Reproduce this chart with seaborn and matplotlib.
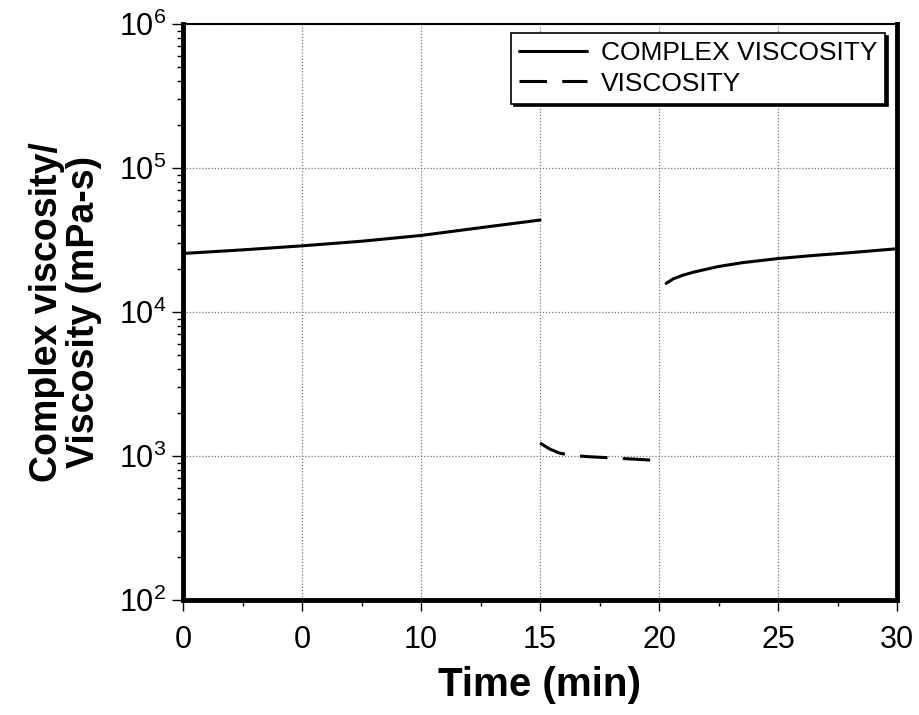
import numpy as np
import pandas as pd
import seaborn as sns
import matplotlib.pyplot as plt
from matplotlib.ticker import LogLocator, NullFormatter, FixedLocator, FixedFormatter

# Complex viscosity, first segment (0-15 min)
cv1_time = [0, 2.5, 5, 7.5, 10, 12.5, 15]
cv1_vals = [2.55e4, 2.7e4, 2.88e4, 3.1e4, 3.4e4, 3.85e4, 4.35e4]
# Complex viscosity, second segment (after 20 min)
cv2_time = [20.3, 20.6, 21, 21.5, 22.5, 23.5, 25, 26.5, 28, 30]
cv2_vals = [1.58e4, 1.7e4, 1.8e4, 1.9e4, 2.07e4, 2.2e4, 2.35e4, 2.47e4, 2.58e4, 2.75e4]
# Viscosity (15-20 min)
v_time = [15, 15.4, 15.8, 16.3, 17, 18, 19, 20]
v_vals = [1.23e3, 1.12e3, 1.05e3, 1.01e3, 0.99e3, 0.97e3, 0.95e3, 0.93e3]

x_ticks = [0, 5, 10, 15, 20, 25, 30]
x_tick_labels = ['0', '0', '10', '15', '20', '25', '30']

sns.set_style("white")
plt.rcParams['font.family'] = ['Liberation Sans', 'DejaVu Sans']
plt.rcParams['mathtext.default'] = 'regular'
plt.rcParams['text.color'] = 'black'
plt.rcParams['axes.labelcolor'] = 'black'
plt.rcParams['xtick.color'] = 'black'
plt.rcParams['ytick.color'] = 'black'

fig = plt.figure(figsize=(9.19, 7.15), dpi=100)
ax = fig.add_axes([183 / 919, 115 / 715, 714 / 919, 576 / 715])

sns.lineplot(x=cv1_time, y=cv1_vals, ax=ax, color='black', lw=2.2, label='COMPLEX VISCOSITY')
sns.lineplot(x=cv2_time, y=cv2_vals, ax=ax, color='black', lw=2.2)
sns.lineplot(x=v_time, y=v_vals, ax=ax, color='black', lw=2.2,
             linestyle=(0, (9, 5)), label='VISCOSITY')

ax.set_yscale('log')
ax.set_xlim(0, 30)
ax.set_ylim(1e2, 1e6)

ax.xaxis.set_major_locator(FixedLocator(x_ticks))
ax.xaxis.set_major_formatter(FixedFormatter(x_tick_labels))
ax.xaxis.set_minor_locator(FixedLocator([2.5, 7.5, 12.5, 17.5, 22.5, 27.5]))
ax.yaxis.set_major_locator(LogLocator(base=10, numticks=10))
ax.yaxis.set_minor_locator(LogLocator(base=10, subs=np.arange(2, 10), numticks=20))
ax.yaxis.set_minor_formatter(NullFormatter())

ax.tick_params(axis='both', which='major', labelsize=22, length=8, width=1, direction='out',
               bottom=True, left=True)
ax.tick_params(axis='both', which='minor', length=4, width=1, direction='out',
               bottom=True, left=True)
ax.tick_params(axis='x', which='major', pad=10)
ax.tick_params(axis='y', which='major', pad=4)

ax.grid(True, which='major', color='#777777', linestyle=(0, (1, 1.5)), linewidth=0.9)

for side in ['left', 'bottom', 'right']:
    ax.spines[side].set_linewidth(3.5)
    ax.spines[side].set_color('black')
ax.spines['top'].set_linewidth(1.5)
ax.spines['top'].set_color('black')

ax.set_xlabel('Time (min)', fontsize=29, fontweight='bold', labelpad=8)
ax.set_ylabel('Complex viscosity/\nViscosity (mPa-s)', fontsize=27, fontweight='bold',
              labelpad=12, linespacing=1.05)

leg = ax.legend(loc='upper right', bbox_to_anchor=(0.983, 0.984), borderaxespad=0,
                fontsize=19, frameon=True, fancybox=False,
                shadow={'color': 'black', 'alpha': 1},
                handlelength=2.6, borderpad=0.3, labelspacing=0.25, handletextpad=0.5)
leg.get_frame().set_edgecolor('black')
leg.get_frame().set_linewidth(1.2)

plt.savefig('out.png', dpi=100)
plt.close()
